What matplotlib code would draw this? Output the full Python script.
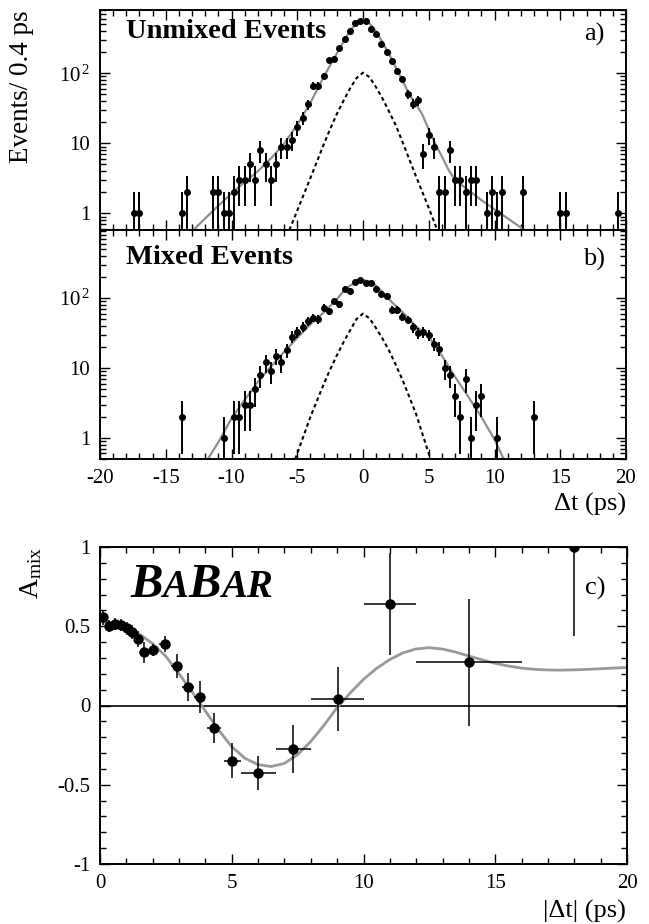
import numpy as np
import matplotlib
matplotlib.use('Agg')
import matplotlib.pyplot as plt
from matplotlib.ticker import MultipleLocator, LogLocator, FixedLocator, NullFormatter, FuncFormatter

plt.rcParams['font.family'] = 'Liberation Serif'
plt.rcParams['mathtext.fontset'] = 'custom'
plt.rcParams['mathtext.rm'] = 'Liberation Serif'
plt.rcParams['mathtext.it'] = 'Liberation Serif:italic'
plt.rcParams['mathtext.bf'] = 'Liberation Serif:bold'
plt.rcParams['axes.unicode_minus'] = False

# ---- data: a) unmixed events, counts per 0.4 ps bin
t_unmix = [-17.4, -17.0, -13.8, -13.4, -11.4, -11.0, -10.6, -10.2,
           -9.8, -9.4, -9.0, -8.6, -8.2, -7.8, -7.4, -7.0, -6.6, -6.2, -5.8, -5.4,
           -5.0, -4.6, -4.2, -3.8, -3.4, -3.0, -2.6, -2.2, -1.8, -1.4, -1.0, -0.6, -0.2,
           0.2, 0.6, 1.0, 1.4, 1.8, 2.2, 2.6, 3.0, 3.4, 3.8, 4.2, 4.6, 5.0, 5.4, 5.8,
           6.2, 6.6, 7.0, 7.4, 7.8, 8.2, 8.6, 9.4, 9.8, 10.2, 10.6, 12.2, 15.0, 15.4, 19.4]
n_unmix = [1, 1, 1, 2, 2, 2, 1, 1,
           2, 3, 3, 5, 3, 8, 5, 3, 5, 9, 9, 11,
           17, 23, 36, 66, 66, 92, 153, 162, 233, 313, 403, 518, 565,
           565, 424, 361, 265, 200, 152, 109, 83, 50, 37, 41, 7, 13, 9, 2,
           2, 8, 3, 3, 2, 3, 3, 1, 2, 1, 2, 2, 1, 1, 1]

# fit curves for a)
t_unmix_fit = [-12.9, -12, -11, -10, -9, -8, -7, -6, -5, -4, -3, -2.5, -2, -1.5, -1, -0.5,
               0, 0.5, 1, 1.5, 2, 2.5, 3, 3.5, 4, 4.5, 5, 5.5, 6, 6.5, 7, 8, 9, 10, 11, 12, 12.3]
n_unmix_fit = [0.58, 0.85, 1.29, 1.93, 2.8, 4.0, 6.1, 9.9, 18.4, 38, 88, 130, 190, 280, 400, 520,
               585, 515, 395, 275, 185, 120, 80, 50, 37, 26, 15.8, 9.8, 6.5, 4.2, 3.0, 2.16, 1.55,
               1.14, 0.85, 0.63, 0.58]
t_unmix_bkg = [-5.6, -5, -4, -3, -2.5, -2, -1.5, -1, -0.5, 0, 0.5, 1, 1.5, 2, 2.5, 3, 4, 5, 5.65]
n_unmix_bkg = [0.58, 1.1, 3.2, 9.5, 16, 26, 40, 60, 85, 102, 88, 63, 43, 28, 18, 10.5, 3.5, 1.2, 0.58]

# ---- data: b) mixed events
t_mix = [-13.8, -10.6,
         -9.8, -9.4, -9.0, -8.6, -8.2, -7.8, -7.4, -7.0, -6.6, -6.2, -5.8, -5.4,
         -5.0, -4.6, -4.2, -3.8, -3.4, -3.0, -2.6, -2.2, -1.8, -1.4, -1.0, -0.6, -0.2,
         0.2, 0.6, 1.0, 1.4, 1.8, 2.2, 2.6, 3.0, 3.4, 3.8, 4.2, 4.6, 5.0, 5.4, 5.8,
         6.2, 6.6, 7.0, 7.4, 7.8, 8.2, 8.6, 9.0, 10.2, 13.0]
n_mix = [2, 1,
         2, 2, 3, 3, 5, 8, 12, 9, 15, 12, 18, 28,
         33, 39, 47, 52, 50, 73, 65, 92, 82, 136, 127, 167, 183,
         164, 164, 136, 114, 108, 68, 68, 54, 49, 38, 32, 33, 30, 22, 19,
         10, 8, 4, 2, 7, 1, 3, 4, 1, 2]

t_mix_fit = [-11.8, -11, -10, -9, -8, -7, -6, -5, -4, -3, -2.5, -2, -1.5, -1, -0.5,
             0, 0.5, 1, 1.5, 2, 2.5, 3, 4, 5, 6, 7, 8, 9, 10, 10.7]
n_mix_fit = [0.5, 0.87, 1.9, 3.5, 6.3, 10.5, 17, 27, 42, 62, 77, 95, 125, 150, 172,
             182, 172, 150, 122, 95, 77, 63, 40, 28, 15, 7.5, 3.9, 2.0, 0.95, 0.5]
t_mix_bkg = [-5.15, -5, -4, -3, -2.5, -2, -1.5, -1, -0.5, 0, 0.5, 1, 1.5, 2, 2.5, 3, 4, 5, 5.1]
n_mix_bkg = [0.5, 0.6, 2.0, 5.8, 9.5, 15, 23, 34, 50, 60, 51, 37, 26, 17.5, 11, 6.8, 2.3, 0.6, 0.5]

# ---- data: c) asymmetry vs |dt|
t_asym = [0.12, 0.34, 0.57, 0.78, 1.01, 1.23, 1.45, 1.67, 2.0, 2.45, 2.91, 3.34, 3.78,
          4.34, 5.02, 6.01, 7.34, 9.02, 11.0, 14.0, 18.0]
a_asym = [0.556, 0.50, 0.514, 0.508, 0.487, 0.466, 0.42, 0.336, 0.35, 0.386, 0.249, 0.117,
          0.052, -0.142, -0.348, -0.426, -0.274, 0.041, 0.64, 0.272, 1.0]
a_err = [0.045, 0.037, 0.037, 0.037, 0.04, 0.045, 0.05, 0.065, 0.04, 0.05, 0.074, 0.09,
         0.1, 0.093, 0.11, 0.105, 0.15, 0.2, 0.32, 0.4, 0.56]
t_halfwidth = [0.1, 0.1, 0.1, 0.1, 0.1, 0.1, 0.1, 0.1, 0.2, 0.2, 0.22, 0.22, 0.2,
               0.27, 0.32, 0.67, 0.67, 1.0, 1.0, 2.0, 2.0]

t_asym_fit = [0, 0.5, 1, 1.5, 2, 2.5, 3, 3.5, 4, 4.5, 5, 5.5, 6, 6.5, 7, 7.5, 8, 8.5, 9, 9.5,
              10, 10.5, 11, 11.5, 12, 12.5, 13, 13.5, 14, 14.5, 15, 15.5, 16, 16.5, 17, 17.5,
              18, 18.5, 19, 19.5, 20]
a_asym_fit = [0.53, 0.52, 0.495, 0.45, 0.39, 0.31, 0.20, 0.085, -0.035, -0.155, -0.26, -0.333,
              -0.373, -0.385, -0.365, -0.31, -0.227, -0.125, -0.013, 0.08, 0.165, 0.235, 0.29,
              0.332, 0.357, 0.365, 0.356, 0.337, 0.312, 0.288, 0.266, 0.249, 0.236, 0.228, 0.224,
              0.223, 0.225, 0.228, 0.232, 0.236, 0.24]

W, H = 649, 924
fig = plt.figure(figsize=(W / 100, H / 100), dpi=100)


def box(l, t, r, b):
    return [l / W, 1 - b / H, (r - l) / W, (b - t) / H]


def fpos(x, y):
    return x / W, 1 - y / H


def style(ax):
    for s in ax.spines.values():
        s.set_linewidth(1.4)
    ax.tick_params(which='both', direction='in', top=True, right=True,
                   labelsize=15, width=1.0, pad=7)
    ax.tick_params(which='major', length=7)
    ax.tick_params(which='minor', length=4)


def log_fmt(v, pos):
    return {1: '1', 10: '10', 100: r'$10^{\,2}$'}.get(int(round(v)), '')


ax_a = fig.add_axes(box(100, 10, 626, 230))
ax_b = fig.add_axes(box(100, 230, 626, 459))
ax_c = fig.add_axes(box(100, 547, 627, 864))

gray = '#8f8f8f'
for ax, t, n, tf, nf, tb, nb, ylim in [
        (ax_a, t_unmix, n_unmix, t_unmix_fit, n_unmix_fit, t_unmix_bkg, n_unmix_bkg, (0.58, 800)),
        (ax_b, t_mix, n_mix, t_mix_fit, n_mix_fit, t_mix_bkg, n_mix_bkg, (0.5, 940))]:
    n = np.array(n, dtype=float)
    err = np.sqrt(n)
    lo = np.minimum(err, n * 0.999)
    ax.plot(tf, nf, color=gray, lw=1.6, zorder=2)
    ax.plot(tb, nb, color='k', lw=1.5, ls=(0, (1.8, 1.5)), zorder=2)
    ax.errorbar(t, n, yerr=[lo, err], fmt='o', ms=4, color='k', elinewidth=1.4,
                capsize=0, zorder=3)
    ax.set_yscale('log')
    ax.set_ylim(*ylim)
    ax.set_xlim(-20, 20)
    ax.yaxis.set_major_locator(FixedLocator([1, 10, 100]))
    ax.yaxis.set_major_formatter(FuncFormatter(log_fmt))
    ax.yaxis.set_minor_locator(LogLocator(base=10, subs=np.arange(2, 10)))
    ax.yaxis.set_minor_formatter(NullFormatter())
    ax.xaxis.set_major_locator(MultipleLocator(5))
    ax.xaxis.set_minor_locator(MultipleLocator(1))
    style(ax)

ax_a.tick_params(labelbottom=False)

ax_a.text(0.05, 0.9, 'Unmixed Events', transform=ax_a.transAxes, fontsize=20.5,
          fontweight='bold', va='center', ha='left')
ax_b.text(0.05, 0.88, 'Mixed Events', transform=ax_b.transAxes, fontsize=20.5,
          fontweight='bold', va='center', ha='left')
ax_a.text(0.96, 0.89, 'a)', transform=ax_a.transAxes, fontsize=19, ha='right', va='center')
ax_b.text(0.96, 0.87, 'b)', transform=ax_b.transAxes, fontsize=19, ha='right', va='center')

fig.text(*fpos(22, 10), 'Events/ 0.4 ps', rotation=90, fontsize=19.5, ha='center', va='top')
fig.text(*fpos(626, 504), '\u0394t (ps)', fontsize=19, ha='right', va='center')

# c) asymmetry
ax_c.axhline(0, color='k', lw=1.2, zorder=1)
ax_c.plot(t_asym_fit, a_asym_fit, color='#999999', lw=2.0, zorder=2)
ax_c.errorbar(t_asym, a_asym, xerr=t_halfwidth, yerr=a_err, fmt='o', ms=6.5, color='k',
              elinewidth=1.1, capsize=0, zorder=3)
ax_c.set_xlim(0, 20)
ax_c.set_ylim(-1, 1)
ax_c.xaxis.set_major_locator(MultipleLocator(5))
ax_c.xaxis.set_minor_locator(MultipleLocator(1))
ax_c.yaxis.set_major_locator(MultipleLocator(0.5))
ax_c.yaxis.set_minor_locator(MultipleLocator(0.1))
ax_c.yaxis.set_major_formatter(FuncFormatter(lambda v, p: '0' if abs(v) < 1e-9 else ('%g' % v)))
style(ax_c)
ax_c.text(0.96, 0.87, 'c)', transform=ax_c.transAxes, fontsize=19, ha='right', va='center')

fig.text(*fpos(31, 547), r'A$_{\mathregular{mix}}$', rotation=90, fontsize=20,
         ha='center', va='top')
fig.text(*fpos(626, 911), '|\u0394t| (ps)', fontsize=19, ha='right', va='center')

# BaBar logo, letters chained one after the other on a common baseline
bx, by = fpos(130, 597)
prev = None
for txt, size in [('B', 35), ('A', 28), ('B', 35), ('AR', 28)]:
    if prev is None:
        prev = fig.text(bx, by, txt, fontsize=size, fontweight='bold', fontstyle='italic',
                        ha='left', va='baseline')
    else:
        prev = ax_c.annotate(txt, xy=(1, by), xycoords=(prev, 'figure fraction'),
                             fontsize=size, fontweight='bold', fontstyle='italic',
                             ha='left', va='baseline', annotation_clip=False)

fig.savefig('out.png', dpi=100)
